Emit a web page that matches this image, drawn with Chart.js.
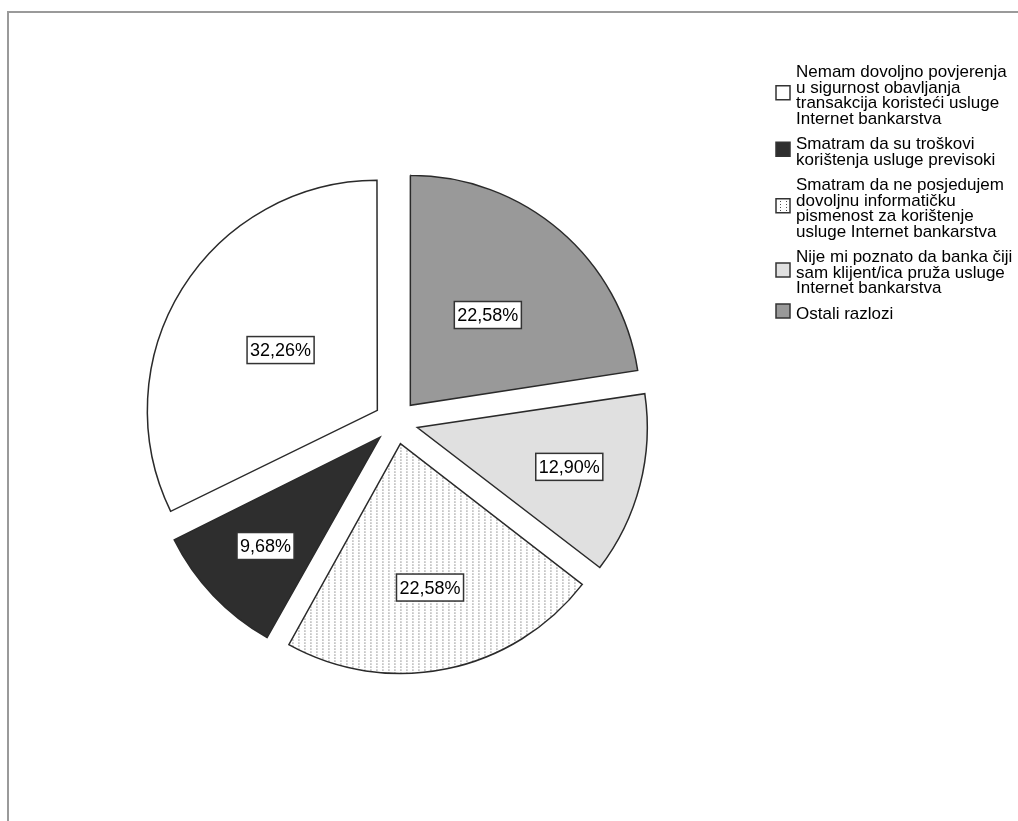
<!DOCTYPE html>
<html>
<head>
<meta charset="utf-8">
<script src="https://cdn.jsdelivr.net/npm/chart.js@4/dist/chart.umd.min.js"></script>
<style>
  html, body { margin: 0; padding: 0; background: #fff; }
</style>
</head>
<body>
<canvas id="ReasonsPieChart" width="1018" height="821"></canvas>
<script>
// categories, in legend order (SPSS draws them counter-clockwise from 12 o'clock)
var Categories = [
    ['Nemam dovoljno povjerenja', 'u sigurnost obavljanja', 'transakcija koristeći usluge', 'Internet bankarstva'],
    ['Smatram da su troškovi', 'korištenja usluge previsoki'],
    ['Smatram da ne posjedujem', 'dovoljnu informatičku', 'pismenost za korištenje', 'usluge Internet bankarstva'],
    ['Nije mi poznato da banka čiji', 'sam klijent/ica pruža usluge', 'Internet bankarstva'],
    ['Ostali razlozi']
];
// number of respondents per reason (31 in total)
var Counts = [10, 3, 7, 4, 7];

var SliceColors = ['#ffffff', '#2e2e2e', 'dots', '#e0e0e0', '#999999'];
// how far from the slice tip the percent box sits
var LabelDistance = [114, 158, 147, 157, 119];

var FONT = '"Liberation Sans", Arial, sans-serif';

function DotPattern() {
    var c = document.createElement('canvas');
    c.width = 6;
    c.height = 3;
    var x = c.getContext('2d');
    x.fillStyle = '#ffffff';
    x.fillRect(0, 0, 6, 3);
    x.fillStyle = '#4e4e4e';
    x.fillRect(0, 0, 1, 1);
    return document.getElementById('ReasonsPieChart').getContext('2d').createPattern(c, 'repeat');
}

var dots = DotPattern();
function Fill(c) { return c === 'dots' ? dots : c; }

var Total = Counts.reduce(function (a, b) { return a + b; }, 0);
function Percent(v) { return (v / Total * 100).toFixed(2).replace('.', ',') + '%'; }

// Chart.js goes clockwise, so feed it the reversed order
var order = [4, 3, 2, 1, 0];
var chartData = order.map(function (i) { return Counts[i]; });
var chartColors = order.map(function (i) { return Fill(SliceColors[i]); });
var chartDist = order.map(function (i) { return LabelDistance[i]; });

var EXPLODE = 88; // Chart.js moves an arc by offset / 4

var SpssPiePlugin = {
    id: 'spssPie',
    beforeDraw: function (chart) {
        var ctx = chart.ctx;
        ctx.save();
        ctx.strokeStyle = '#9a9a9a';
        ctx.lineWidth = 2;
        ctx.beginPath();
        ctx.moveTo(8, chart.height);
        ctx.lineTo(8, 12);
        ctx.lineTo(chart.width, 12);
        ctx.stroke();
        ctx.restore();
    },
    beforeDatasetsDraw: function (chart) {
        // keep every exploded slice at the same radius
        var meta = chart.getDatasetMeta(0);
        var R = meta.controller.outerRadius;
        meta.data.forEach(function (arc) {
            var off = (arc.options.offset || 0) / 4;
            var fix = 1 - Math.sin(Math.min(Math.PI, arc.circumference));
            arc.outerRadius = R - off * fix;
        });
    },
    afterDatasetsDraw: function (chart) {
        var ctx = chart.ctx;
        var meta = chart.getDatasetMeta(0);
        ctx.save();
        ctx.font = '18px ' + FONT;
        ctx.textAlign = 'center';
        ctx.textBaseline = 'middle';
        meta.data.forEach(function (arc, i) {
            var mid = (arc.startAngle + arc.endAngle) / 2;
            var d = (arc.options.offset || 0) / 4 + chartDist[i];
            var x = arc.x + Math.cos(mid) * d;
            var y = arc.y + Math.sin(mid) * d;
            var txt = Percent(chartData[i]);
            var w = ctx.measureText(txt).width + 6;
            var h = 27;
            ctx.fillStyle = '#ffffff';
            ctx.fillRect(x - w / 2, y - h / 2, w, h);
            ctx.strokeStyle = '#333333';
            ctx.lineWidth = 1.5;
            ctx.strokeRect(x - w / 2, y - h / 2, w, h);
            ctx.fillStyle = '#000000';
            ctx.fillText(txt, x, y + 1);
        });
        ctx.restore();
    },
    afterDraw: function (chart) {
        // legend on the right, wrapped text
        var ctx = chart.ctx;
        var lineH = 15.5, gap = 10, y = 77;
        ctx.save();
        ctx.font = '17px ' + FONT;
        ctx.textAlign = 'left';
        ctx.textBaseline = 'alphabetic';
        Categories.forEach(function (lines, i) {
            var first = y;
            lines.forEach(function (t) {
                ctx.fillStyle = '#000000';
                ctx.fillText(t, 796, y);
                y += lineH;
            });
            var last = y - lineH;
            var cy = (first + last) / 2 - 7.5;
            ctx.fillStyle = Fill(SliceColors[i]);
            ctx.fillRect(776, cy - 7, 14, 14);
            ctx.strokeStyle = '#333333';
            ctx.lineWidth = 1.5;
            ctx.strokeRect(776, cy - 7, 14, 14);
            y += gap;
        });
        ctx.restore();
    }
};

new Chart(document.getElementById('ReasonsPieChart').getContext('2d'), {
    type: 'pie',
    data: {
        labels: order.map(function (i) { return Categories[i].join(' '); }),
        datasets: [{
            data: chartData,
            backgroundColor: chartColors,
            borderColor: '#2a2a2a',
            borderWidth: 1.5,
            borderJoinStyle: 'miter',
            offset: EXPLODE
        }]
    },
    options: {
        responsive: false,
        animation: false,
        events: [],
        radius: 230,
        layout: { padding: { left: 10, right: 236, top: 30, bottom: 7 } },
        plugins: {
            legend: { display: false },
            tooltip: { enabled: false }
        }
    },
    plugins: [SpssPiePlugin]
});
</script>
</body>
</html>
